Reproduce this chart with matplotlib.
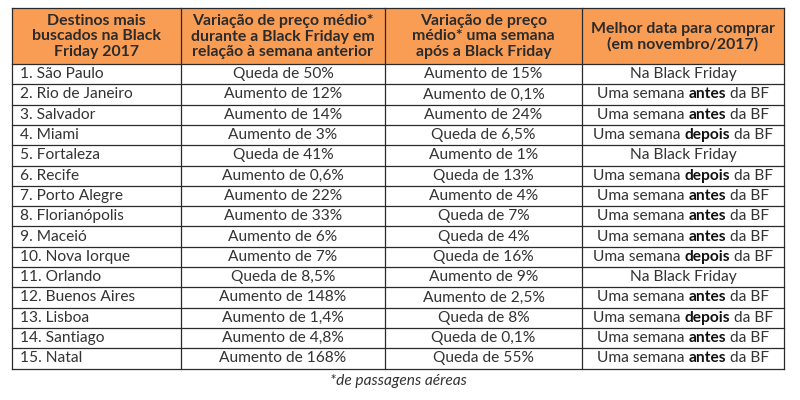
import matplotlib
matplotlib.use('Agg')
import matplotlib.pyplot as plt
from matplotlib.patches import Rectangle

plt.rcParams['font.family'] = ['Lato', 'DejaVu Sans']

headers = ['Destinos mais\nbuscados na Black\nFriday 2017',
           'Variação de preço médio*\ndurante a Black Friday em\nrelação à semana anterior',
           'Variação de preço\nmédio* uma semana\napós a Black Friday',
           'Melhor data para comprar\n(em novembro/2017)']
destinos = ['São Paulo', 'Rio de Janeiro', 'Salvador', 'Miami', 'Fortaleza', 'Recife',
            'Porto Alegre', 'Florianópolis', 'Maceió', 'Nova Iorque', 'Orlando',
            'Buenos Aires', 'Lisboa', 'Santiago', 'Natal']
durante = ['Queda de 50%', 'Aumento de 12%', 'Aumento de 14%', 'Aumento de 3%',
           'Queda de 41%', 'Aumento de 0,6%', 'Aumento de 22%', 'Aumento de 33%',
           'Aumento de 6%', 'Aumento de 7%', 'Queda de 8,5%', 'Aumento de 148%',
           'Aumento de 1,4%', 'Aumento de 4,8%', 'Aumento de 168%']
apos = ['Aumento de 15%', 'Aumento de 0,1%', 'Aumento de 24%', 'Queda de 6,5%',
        'Aumento de 1%', 'Queda de 13%', 'Aumento de 4%', 'Queda de 7%',
        'Queda de 4%', 'Queda de 16%', 'Aumento de 9%', 'Aumento de 2,5%',
        'Queda de 8%', 'Queda de 0,1%', 'Queda de 55%']
# melhor data: None = Na Black Friday, otherwise the bold word
melhor = [None, 'antes', 'antes', 'depois', None, 'depois', 'antes', 'antes',
          'antes', 'depois', None, 'antes', 'depois', 'antes', 'antes']
footnote = '*de passagens aéreas'

col_x = [12, 181, 385, 582, 784]
top, head_bottom, row_h = 8, 64, 20.3
orange = '#F99D55'
txt_col = '#333333'
fs = 11.2
fs_head = 11.4

fig = plt.figure(figsize=(8, 4), dpi=100)
ax = fig.add_axes([0, 0, 1, 1])
ax.set_xlim(0, 800)
ax.set_ylim(400, 0)
ax.axis('off')

n = len(destinos)
bottom = head_bottom + n * row_h

# header background and text
ax.add_patch(Rectangle((col_x[0], top), col_x[-1] - col_x[0], head_bottom - top,
                       facecolor=orange, edgecolor='none'))
for i, h in enumerate(headers):
    ax.text((col_x[i] + col_x[i + 1]) / 2, (top + head_bottom) / 2 + 0.5, h,
            ha='center', va='center', fontsize=fs_head, fontweight='bold',
            color='#2b2b2b', linespacing=1.12)

# grid lines
for x in col_x:
    ax.plot([x, x], [top, bottom], color='#2a2a2a', lw=0.9)
ax.plot([col_x[0], col_x[-1]], [top, top], color='#2a2a2a', lw=0.9)
for r in range(n + 1):
    y = head_bottom + r * row_h
    ax.plot([col_x[0], col_x[-1]], [y, y], color='#2a2a2a', lw=0.9)

fig.canvas.draw()
renderer = fig.canvas.get_renderer()
inv = ax.transData.inverted()


def text_width(s, weight):
    t = ax.text(0, 0, s, fontsize=fs, fontweight=weight)
    bb = t.get_window_extent(renderer)
    t.remove()
    p0 = inv.transform((bb.x0, bb.y0))
    p1 = inv.transform((bb.x1, bb.y0))
    return p1[0] - p0[0]


for r in range(n):
    yc = head_bottom + (r + 0.5) * row_h
    ax.text(col_x[0] + 8, yc, f'{r + 1}. {destinos[r]}', ha='left', va='center',
            fontsize=fs, color=txt_col)
    ax.text((col_x[1] + col_x[2]) / 2, yc, durante[r], ha='center', va='center',
            fontsize=fs, color=txt_col)
    ax.text((col_x[2] + col_x[3]) / 2, yc, apos[r], ha='center', va='center',
            fontsize=fs, color=txt_col)
    cx = (col_x[3] + col_x[4]) / 2
    if melhor[r] is None:
        ax.text(cx, yc, 'Na Black Friday', ha='center', va='center',
                fontsize=fs, color=txt_col)
    else:
        parts = [('Uma semana ', 'normal'), (melhor[r], 'bold'), (' da BF', 'normal')]
        widths = [text_width(p, w) for p, w in parts]
        x = cx - sum(widths) / 2
        for (p, w), wd in zip(parts, widths):
            ax.text(x, yc, p, ha='left', va='center', fontsize=fs,
                    fontweight=w, color=txt_col if w == 'normal' else '#111111')
            x += wd

ax.text(398, bottom + 13, footnote, ha='center', va='center', fontsize=fs,
        style='italic', color=txt_col)

fig.savefig('out.png', dpi=100, facecolor='white')
